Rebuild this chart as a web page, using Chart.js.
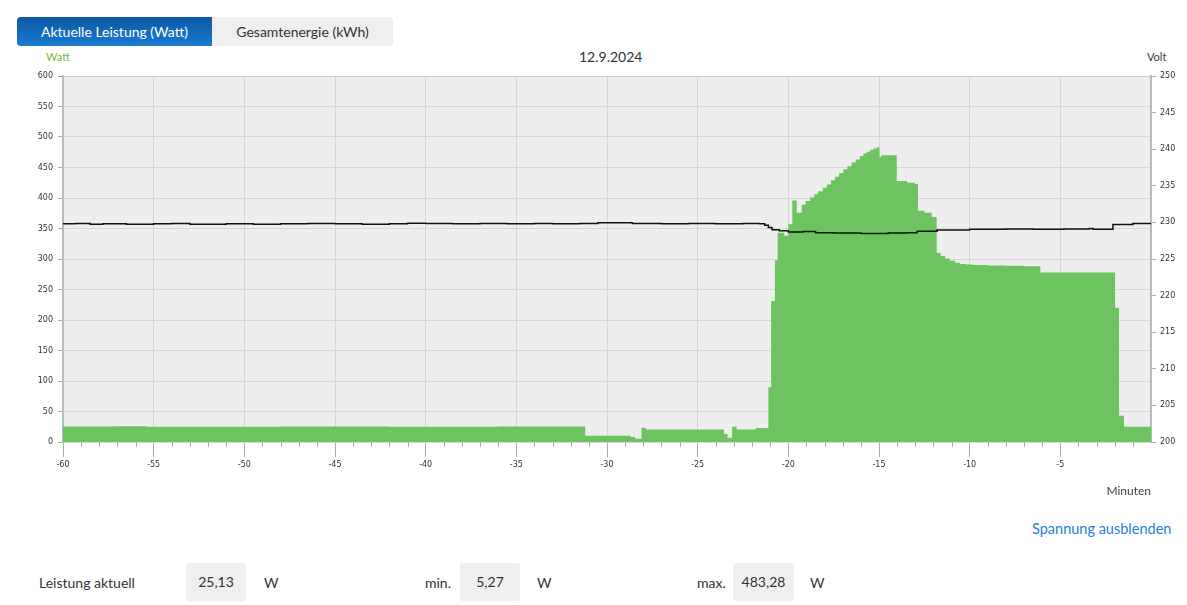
<!DOCTYPE html>
<html>
<head>
<meta charset="utf-8">
<script src="https://cdn.jsdelivr.net/npm/chart.js@4"></script>
<style>
  body { margin: 0; background: #fff; font-family: Lato, "Open Sans", sans-serif; color: #333; }
  .abs { position: absolute; white-space: nowrap; }
  .tabs { position: absolute; left: 17px; top: 17px; width: 376px; height: 29px; background: #efefef; border-radius: 4px; }
  .tab { position: absolute; top: 0; height: 29px; line-height: 29px; text-align: center; font-size: 14px; }
  .tab.active { left: 0; width: 195px; color: #fff; border-radius: 4px 0 0 4px; background: linear-gradient(#0b58a3, #1a7ad2); }
  .tab.other { left: 195px; width: 181px; color: #333; }
  .box { position: absolute; top: 563px; height: 38px; line-height: 38px; background: #efefef; border-radius: 3px; text-align: center; font-size: 14px; }
  .lbl { font-size: 14px; top: 574px; }
  #wrap { position: absolute; left: 0; top: 61px; }
</style>
</head>
<body>
<div class="tabs">
  <div class="tab active">Aktuelle Leistung (Watt)</div>
  <div class="tab other">Gesamtenergie (kWh)</div>
</div>
<div class="abs" style="left:46px; top:50px; font-size:11px; color:#7bb946;">Watt</div>
<div class="abs" style="left:579px; top:48px; font-size:14px; color:#333;">12.9.2024</div>
<div class="abs" style="left:1147px; top:50px; font-size:11px; color:#333;">Volt</div>
<div id="wrap"><canvas id="chart" width="1187" height="445"></canvas></div>
<div class="abs" style="left:1032px; top:520px; font-size:14.5px; color:#1f80d8;">Spannung ausblenden</div>
<div class="abs lbl" style="left:39px;">Leistung aktuell</div>
<div class="box" style="left:186px; width:60px;">25,13</div>
<div class="abs lbl" style="left:264px;">W</div>
<div class="abs lbl" style="left:425px;">min.</div>
<div class="box" style="left:460px; width:60px;">5,27</div>
<div class="abs lbl" style="left:537px;">W</div>
<div class="abs lbl" style="left:697px;">max.</div>
<div class="box" style="left:733px; width:61px;">483,28</div>
<div class="abs lbl" style="left:810px;">W</div>
<script>
// Leistung (Watt): Minuten relativ zu jetzt, Wert gilt ab diesem Zeitpunkt
var powerMinutes = [-60, -57.2, -55.4, -48, -42, -36, -31.2, -28.7, -28.45, -28.1, -27.85, -23.55, -23.35, -23.1, -22.85, -21.8,
  -21.1, -20.95, -20.74, -20.59, -20.22, -20.0, -19.78, -19.54, -19.26, -19.05, -18.8, -18.57, -18.35, -18.1, -17.88, -17.65,
  -17.43, -17.2, -16.97, -16.74, -16.51, -16.28, -16.05, -15.86, -15.68, -15.5, -15.31, -15.13, -15.05, -14.98, -14.88, -14.02,
  -13.45, -13.01, -12.85, -12.5, -12.1, -11.82, -11.6, -11.35, -11.08, -10.8, -10.53, -10.2, -9.82, -9, -8, -7, -6.1,
  -1.98, -1.76, -1.49, 0];
var powerWatt = [25.3, 25.8, 25.1, 25.4, 25.0, 25.3, 10.2, 8, 5.27, 23.5, 20.5, 13, 7, 25, 20.5, 23,
  90, 231, 298, 343, 338, 357, 396, 376, 389, 395, 401, 406, 411, 417, 422, 429,
  435, 441, 447, 452, 458, 463, 469, 473, 476, 479, 481, 483, 483.28, 467, 470, 428,
  425, 423, 379, 376, 369, 310, 305, 301, 297, 294, 292, 291, 290, 289.5, 289, 288, 278,
  220, 43, 25.13, 25.13];

// Spannung (Volt)
var voltMinutes = [-60, -59.3, -58.5, -57.8, -56.5, -55, -54, -53, -51, -49.5, -48, -46.5, -45, -43.5, -42, -41, -40, -38.5,
  -37, -35.5, -34, -33, -31.5, -30.5, -28.6, -27, -25.5, -24, -22.5, -21.6, -21.3, -21.1, -20.9, -20.5, -20, -19.2, -18.5,
  -17.5, -16, -14.5, -13.5, -12.9, -11.8, -10, -8, -6.5, -4.8, -3.4, -3.2, -2.1, -1, 0];
var voltValues = [229.8, 229.85, 229.75, 229.8, 229.75, 229.8, 229.85, 229.75, 229.8, 229.75, 229.8, 229.85, 229.8, 229.75, 229.8, 229.9, 229.85, 229.8,
  229.85, 229.8, 229.85, 229.8, 229.85, 229.95, 229.85, 229.8, 229.85, 229.8, 229.85, 229.8, 229.6, 229.3, 229.0, 228.85, 228.7, 228.75, 228.6,
  228.55, 228.5, 228.55, 228.6, 228.8, 228.95, 229.05, 229.1, 229.05, 229.1, 229.15, 229.05, 229.7, 229.85, 229.9];

var tickFont = { family: 'DejaVu Sans', size: 8 };

function pairs(xs, ys) {
  return xs.map(function (x, i) { return { x: x, y: ys[i] }; });
}

// grauer Hintergrund der Zeichenfläche
var plotBackground = {
  id: 'plotBackground',
  beforeDraw: function (chart) {
    var a = chart.chartArea, ctx = chart.ctx;
    ctx.save();
    ctx.fillStyle = '#eeeeee';
    ctx.fillRect(a.left, a.top, a.right - a.left, a.bottom - a.top);
    ctx.restore();
  }
};

// kleine Striche für jede Minute
var minorTicks = {
  id: 'minorTicks',
  afterDraw: function (chart) {
    var sx = chart.scales.x, ctx = chart.ctx, bottom = chart.chartArea.bottom;
    ctx.save();
    ctx.strokeStyle = '#a3b0ae';
    ctx.lineWidth = 1;
    for (var m = -59; m < 0; m++) {
      if (m % 5 === 0) continue;
      var px = Math.round(sx.getPixelForValue(m)) + 0.5;
      ctx.beginPath();
      ctx.moveTo(px, bottom);
      ctx.lineTo(px, bottom + 5);
      ctx.stroke();
    }
    ctx.restore();
  }
};

new Chart(document.getElementById('chart').getContext('2d'), {
  type: 'line',
  data: {
    datasets: [{
      label: 'Spannung',
      data: pairs(voltMinutes, voltValues),
      yAxisID: 'y1',
      stepped: true,
      borderColor: '#111111',
      borderWidth: 1.5,
      pointRadius: 0,
      fill: false,
      order: 0
    }, {
      label: 'Leistung',
      data: pairs(powerMinutes, powerWatt),
      yAxisID: 'y',
      stepped: true,
      borderColor: 'rgb(108, 195, 96)',
      borderWidth: 0,
      backgroundColor: 'rgb(108, 195, 96)',
      pointRadius: 0,
      fill: 'origin',
      order: 1
    }]
  },
  options: {
    responsive: false,
    animation: false,
    layout: { padding: { top: 15, left: 0, right: 0, bottom: 0 } },
    scales: {
      x: {
        type: 'linear',
        min: -60,
        max: 0,
        afterFit: function (scale) { scale.height = 64; },
        ticks: {
          stepSize: 5,
          autoSkip: false,
          maxRotation: 0,
          padding: 3,
          color: '#333',
          font: tickFont,
          callback: function (value) { return value === 0 ? '' : value; }
        },
        grid: {
          color: '#d5d5d5',
          tickLength: 15,
          tickColor: function (c) { return c.tick && c.tick.value === 0 ? 'rgba(0,0,0,0)' : '#a3b0ae'; }
        },
        border: { display: false },
        title: {
          display: true,
          text: 'Minuten',
          align: 'end',
          color: '#444',
          font: { family: 'Lato', size: 12 },
          padding: { top: 0, bottom: 8 }
        }
      },
      y: {
        position: 'left',
        min: 0,
        max: 600,
        afterFit: function (scale) { scale.width = 63; },
        ticks: { stepSize: 50, padding: 5, color: '#333', font: tickFont },
        grid: {
          color: function (c) { return c.tick && c.tick.value === 600 ? '#c6cccb' : '#d8d8d8'; },
          tickLength: 5,
          tickColor: '#a3b0ae'
        },
        border: { display: true, color: '#b3bfbd', width: 2 }
      },
      y1: {
        position: 'right',
        min: 200,
        max: 250,
        afterFit: function (scale) { scale.width = 36; },
        ticks: { stepSize: 5, padding: 4, color: '#333', font: tickFont },
        grid: { drawOnChartArea: false, tickLength: 5, tickColor: '#a3b0ae' },
        border: { display: true, color: '#b3bfbd', width: 2 }
      }
    },
    plugins: {
      legend: { display: false },
      title: { display: false },
      tooltip: { enabled: false }
    }
  },
  plugins: [plotBackground, minorTicks]
});
</script>
</body>
</html>
